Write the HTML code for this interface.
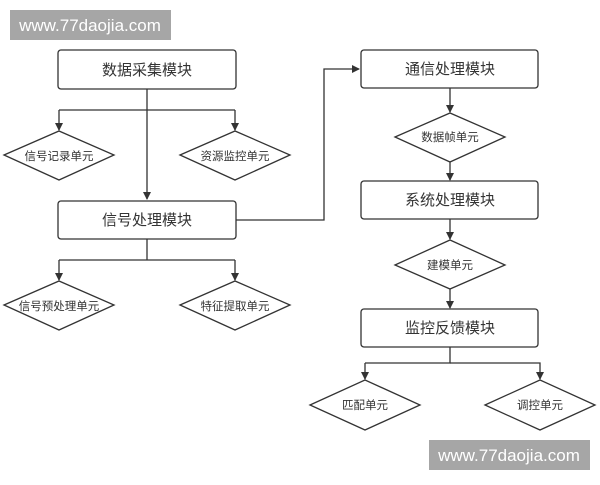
<!DOCTYPE html>
<html><head><meta charset="utf-8"><style>
html,body{margin:0;padding:0;background:#fff;}
svg text{font-family:"Liberation Sans","Noto Sans CJK SC",sans-serif;fill:#333;}
</style></head><body>
<svg width="600" height="480" viewBox="0 0 600 480" xmlns="http://www.w3.org/2000/svg">
<defs><marker id="a" markerWidth="8" markerHeight="8" refX="7" refY="4" orient="auto" markerUnits="userSpaceOnUse"><path d="M0,0 L8,4 L0,8 z" fill="#333"/></marker></defs>
<g stroke="#333" stroke-width="1.3" fill="none">
<rect x="58" y="50" width="178" height="39" rx="3" fill="#fff"/>
<rect x="58" y="201" width="178" height="38" rx="3" fill="#fff"/>
<rect x="361" y="50" width="177" height="38" rx="3" fill="#fff"/>
<rect x="361" y="181" width="177" height="38" rx="3" fill="#fff"/>
<rect x="361" y="309" width="177" height="38" rx="3" fill="#fff"/>
<polygon points="4,155 59,131 114,155 59,180"/>
<polygon points="180,155 235,131 290,155 235,180"/>
<polygon points="4,305 59,281 114,305 59,330"/>
<polygon points="180,305 235,281 290,305 235,330"/>
<polygon points="395,137 450,113 505,137 450,162"/>
<polygon points="395,265 450,240 505,265 450,289"/>
<polygon points="310,405 365,380 420,405 365,430"/>
<polygon points="485,405 540,380 595,405 540,430"/>
<path d="M147,89 V199" marker-end="url(#a)"/>
<path d="M59,110 H235 M59,110 V130" marker-end="url(#a)"/>
<path d="M235,110 V130" marker-end="url(#a)"/>
<path d="M147,239 V260 M59,260 H235 M59,260 V280" marker-end="url(#a)"/>
<path d="M235,260 V280" marker-end="url(#a)"/>
<path d="M236,220 H324 V69 H359" marker-end="url(#a)"/>
<path d="M450,88 V112" marker-end="url(#a)"/>
<path d="M450,162 V180" marker-end="url(#a)"/>
<path d="M450,219 V239" marker-end="url(#a)"/>
<path d="M450,289 V308" marker-end="url(#a)"/>
<path d="M450,347 V363 H365 M365,363 V379" marker-end="url(#a)"/>
<path d="M450,363 H540 V379" marker-end="url(#a)"/>
</g>
<g font-size="15" text-anchor="middle">
<text x="147" y="75">数据采集模块</text>
<text x="147" y="225">信号处理模块</text>
<text x="450" y="74">通信处理模块</text>
<text x="450" y="205">系统处理模块</text>
<text x="450" y="333">监控反馈模块</text>
</g>
<g font-size="11.5" text-anchor="middle">
<text x="59" y="160">信号记录单元</text>
<text x="235" y="160">资源监控单元</text>
<text x="59" y="310">信号预处理单元</text>
<text x="235" y="310">特征提取单元</text>
<text x="450" y="141">数据帧单元</text>
<text x="450" y="269">建模单元</text>
<text x="365" y="409">匹配单元</text>
<text x="540" y="409">调控单元</text>
</g>
<rect x="10" y="10" width="161" height="30" fill="#a6a6a6"/>
<text x="90" y="31" font-size="17" text-anchor="middle" style="fill:#fff">www.77daojia.com</text>
<rect x="429" y="440" width="161" height="30" fill="#a6a6a6"/>
<text x="509" y="461" font-size="17" text-anchor="middle" style="fill:#fff">www.77daojia.com</text>
</svg>
</body></html>
